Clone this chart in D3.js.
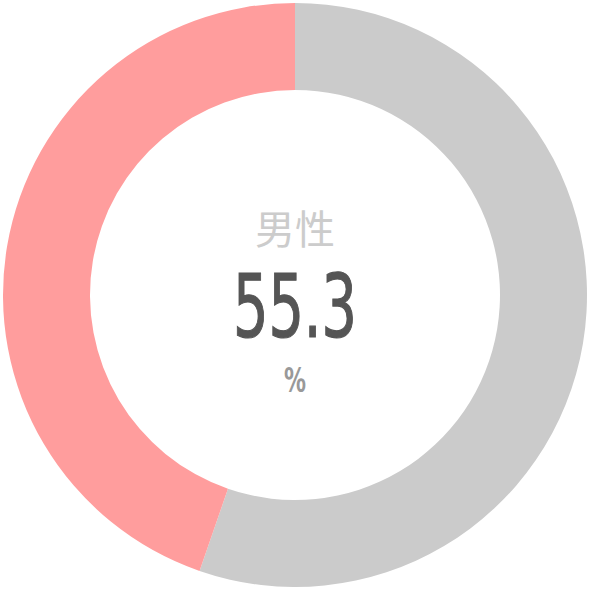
<!DOCTYPE html>
<html>
<head>
<meta charset="utf-8">
<script src="https://cdn.jsdelivr.net/npm/d3@7"></script>
<style>
  body { margin: 0; background: #fff; }
</style>
</head>
<body>
<div id="viz"></div>
<script>
const width = 590;
const height = 590;
const outerR = 292;
const innerR = 205;

// data
const categories = ['男性', '女性'];
const values = [55.3, 44.7];
const unitLabel = '%';
const sliceColors = ['#cbcbcb', '#ff9d9d'];

const data = categories.map((c, i) => ({name: c, value: values[i]}));

const svg = d3.select('#viz')
  .append('svg')
  .attr('width', width)
  .attr('height', height)
  .attr('viewBox', [0, 0, width, height]);

const g = svg.append('g')
  .attr('transform', `translate(${width / 2}, ${height / 2})`);

const pie = d3.pie()
  .sort(null)
  .value(d => d.value);

const arc = d3.arc()
  .innerRadius(innerR)
  .outerRadius(outerR);

const color = d3.scaleOrdinal()
  .domain(categories)
  .range(sliceColors);

g.selectAll('.slice')
  .data(pie(data))
  .join('path')
    .attr('class', 'slice')
    .attr('d', arc)
    .attr('fill', d => color(d.data.name));

// center labels
g.append('text')
  .attr('x', 0)
  .attr('y', -51)
  .attr('text-anchor', 'middle')
  .attr('font-family', '"Noto Sans CJK JP", sans-serif')
  .attr('font-size', 40)
  .attr('fill', '#cccccc')
  .text(categories[0]);

g.append('text')
  .attr('x', 0)
  .attr('y', 42)
  .attr('text-anchor', 'middle')
  .attr('font-family', '"DejaVu Sans Condensed", "DejaVu Sans", sans-serif')
  .attr('font-size', 88)
  .attr('textLength', 124)
  .attr('lengthAdjust', 'spacingAndGlyphs')
  .attr('fill', '#555555')
  .attr('stroke', '#555555')
  .attr('stroke-width', 1.2)
  .text(d3.format('.1f')(values[0]));

g.append('text')
  .attr('x', 0)
  .attr('y', 97)
  .attr('text-anchor', 'middle')
  .attr('font-family', '"DejaVu Sans Condensed", "DejaVu Sans", sans-serif')
  .attr('font-size', 34)
  .attr('font-weight', 'bold')
  .attr('textLength', 22)
  .attr('lengthAdjust', 'spacingAndGlyphs')
  .attr('fill', '#999999')
  .text(unitLabel);
</script>
</body>
</html>
